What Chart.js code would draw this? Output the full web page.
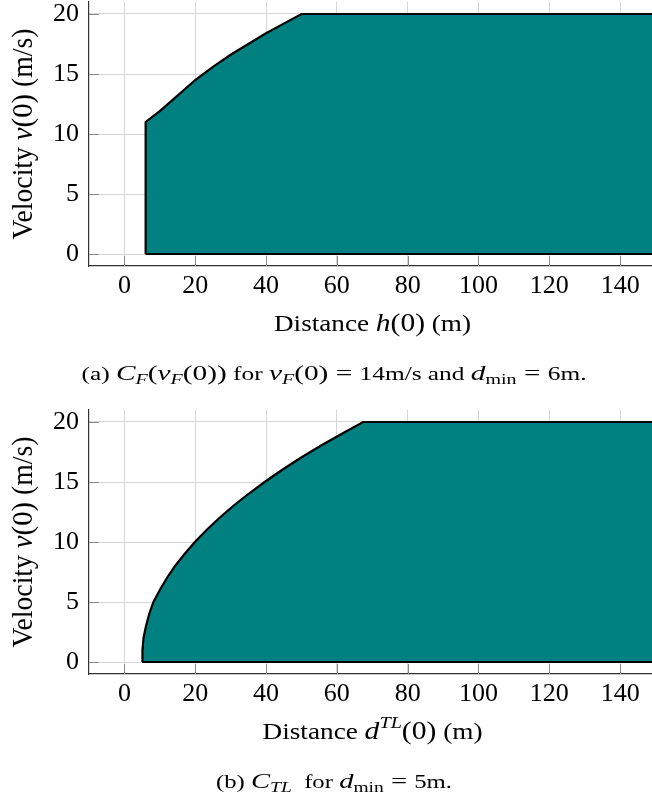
<!DOCTYPE html>
<html>
<head>
<meta charset="utf-8">
<script src="https://cdn.jsdelivr.net/npm/chart.js@4.4.1/dist/chart.umd.min.js"></script>
<style>
  html, body { margin: 0; padding: 0; background: #fff; }
  body { width: 652px; height: 802px; position: relative; overflow: hidden; }
  canvas { position: absolute; left: 0; }
</style>
</head>
<body>
<canvas id="chartA" width="652" height="400" style="top:0px"></canvas>
<canvas id="chartB" width="652" height="402" style="top:400px"></canvas>
<script>
// tick values, same for both panels
const xTicks = [0, 20, 40, 60, 80, 100, 120, 140];
const yTicks = [0, 5, 10, 15, 20];

// (a) C_F region, outline (goes round the shape)
const distA = [6, 6, 10, 15, 20, 25, 30, 35, 40, 45, 50, 160, 160, 6];
const velA  = [0, 11, 11.9, 13.2, 14.5, 15.6, 16.6, 17.5, 18.4, 19.2, 20, 20, 0, 0];

// (b) C_TL region
const distB = [5, 5.1, 5.4, 6.1, 7, 8.2, 10, 12, 14.3, 17, 19.9, 23.2, 26.8, 30.7, 35, 39.6, 44.5, 49.7, 55.3, 61.3, 67.4, 160, 160, 5];
const velB  = [0, 1, 2, 3, 4, 5, 6, 7, 8, 9, 10, 11, 12, 13, 14, 15, 16, 17, 18, 19, 20, 20, 0, 0];

const serif = "'Liberation Serif', 'Times New Roman', Times, serif";

// small helper for mixed text: [text, size, italic, baseline shift]
function s(t, size, it, dy) { return { t: t, size: size, it: !!it, dy: dy || 0 }; }

const titleA = [s('Distance ', 23), s('h', 25, true), s('(0)', 25), s(' (m)', 23)];
const titleB = [s('Distance ', 23), s('d', 25, true), s('TL', 17, true, -11), s('(0)', 25), s(' (m)', 23)];
const yTitle = [s('Velocity ', 29), s('v', 30, true), s('(0)', 30), s(' (m/s)', 29)];
const captionA = [s('(a) ', 19), s('C', 22, true), s('F', 15, true, 4), s('(', 22), s('v', 22, true), s('F', 15, true, 4),
  s('(0))', 22), s(' for ', 19), s('v', 22, true), s('F', 15, true, 4), s('(0) = ', 22), s('14m/s', 19),
  s(' and ', 19), s('d', 22, true), s('min', 15, false, 4), s(' = ', 22), s('6m.', 19)];
const captionB = [s('(b) ', 19), s('C', 22, true), s('TL', 15, true, 4), s('  for ', 19), s('d', 22, true),
  s('min', 15, false, 4), s(' = ', 22), s('5m.', 19)];

function fontOf(g) { return (g.it ? 'italic ' : '') + g.size + 'px ' + serif; }

// draws a run of segments centred on (cx, cy), squeezed/stretched to a width
function drawRich(ctx, segs, cx, cy, width, angle) {
  let total = 0;
  segs.forEach(g => { ctx.font = fontOf(g); g.w = ctx.measureText(g.t).width; total += g.w; });
  const sx = width ? width / total : 1;
  ctx.save();
  ctx.translate(cx, cy);
  ctx.rotate(angle || 0);
  ctx.scale(sx, 1);
  ctx.fillStyle = '#000';
  ctx.textBaseline = 'alphabetic';
  ctx.textAlign = 'left';
  let x = -total / 2;
  segs.forEach(g => { ctx.font = fontOf(g); ctx.fillText(g.t, x, g.dy); x += g.w; });
  ctx.restore();
}

// inner tick marks (pgfplots style) and the axis titles / caption
function decor(xTitle, xTitleW, caption, captionW) {
  return {
    id: 'decor',
    beforeDatasetsDraw(chart) {
      const { ctx, chartArea: a, scales } = chart;
      ctx.save();
      ctx.strokeStyle = '#8a8a8a';
      ctx.lineWidth = 1;
      ctx.beginPath();
      scales.x.ticks.forEach(t => {
        const px = Math.round(scales.x.getPixelForValue(t.value)) + 0.5;
        ctx.moveTo(px, a.bottom); ctx.lineTo(px, a.bottom - 10);
      });
      scales.y.ticks.forEach(t => {
        const py = Math.round(scales.y.getPixelForValue(t.value)) + 0.5;
        ctx.moveTo(a.left, py); ctx.lineTo(a.left + 10, py);
      });
      ctx.stroke();
      ctx.restore();
    },
    afterDraw(chart) {
      const { ctx, chartArea: a } = chart;
      drawRich(ctx, xTitle, (a.left + a.right) / 2 + 2, a.bottom + 65, xTitleW, 0);
      drawRich(ctx, yTitle, 32, (a.top + a.bottom) / 2, 211, -Math.PI / 2);
      drawRich(ctx, caption, 334, a.bottom + 114, captionW, 0);
    }
  };
}

function buildChart(id, dist, vel, padTop, xAxisH, plugin) {
  const points = dist.map((d, i) => ({ x: d, y: vel[i] }));
  const tickFont = { family: serif, size: 26 };
  return new Chart(document.getElementById(id), {
    type: 'line',
    data: {
      datasets: [{
        data: points,
        fill: 'shape',
        backgroundColor: '#008080',
        borderColor: '#000',
        borderWidth: 2.2,
        borderJoinStyle: 'miter',
        pointRadius: 0,
        tension: 0
      }]
    },
    options: {
      responsive: false,
      animation: false,
      layout: { padding: { top: padTop, left: 0, right: 0, bottom: 0 } },
      plugins: { legend: { display: false }, tooltip: { enabled: false } },
      scales: {
        x: {
          type: 'linear',
          min: -10,
          max: 149,
          afterBuildTicks: sc => { sc.ticks = xTicks.map(v => ({ value: v })); },
          afterFit: sc => { sc.height = xAxisH; sc.paddingLeft = 0; sc.paddingRight = 0; },
          grid: { color: '#d6d6d6', lineWidth: 1, drawTicks: false },
          border: { color: '#333', width: 1.2 },
          ticks: { font: tickFont, color: '#000', padding: 5, maxRotation: 0, autoSkip: false }
        },
        y: {
          type: 'linear',
          min: -1,
          max: 21,
          afterBuildTicks: sc => { sc.ticks = yTicks.map(v => ({ value: v })); },
          afterFit: sc => { sc.width = 89; sc.paddingTop = 0; sc.paddingBottom = 0; },
          grid: { color: '#d6d6d6', lineWidth: 1, drawTicks: false },
          border: { color: '#333', width: 1.2 },
          ticks: { font: tickFont, color: '#000', padding: 10, autoSkip: false }
        }
      }
    },
    plugins: [plugin]
  });
}

// make sure the serif face is ready before the canvas text is drawn
Promise.all([
  document.fonts.load("26px 'Liberation Serif'"),
  document.fonts.load("italic 26px 'Liberation Serif'")
]).catch(() => {}).then(() => {
  buildChart('chartA', distA, velA, 2, 134, decor(titleA, 197, captionA, 505));
  buildChart('chartB', distB, velB, 10, 128, decor(titleB, 220, captionB, 236));
});
</script>
</body>
</html>
